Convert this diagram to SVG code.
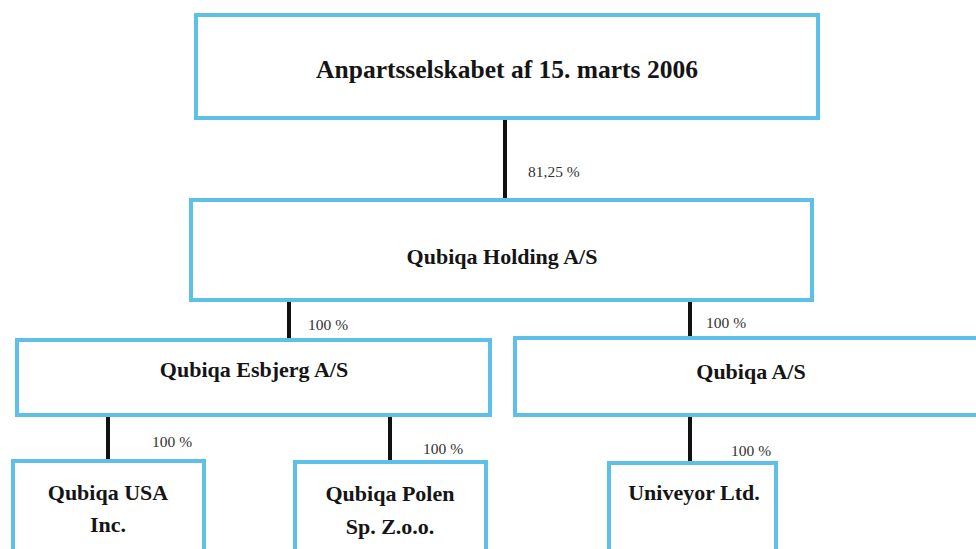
<svg xmlns="http://www.w3.org/2000/svg" width="976" height="549" viewBox="0 0 976 549">
<style>
.box{fill:#ffffff;stroke:#5ec0e8;stroke-width:4}
.lbl{font-family:"Liberation Serif","Times New Roman",serif;font-weight:bold;fill:#151515;text-anchor:middle;font-size:22px}
.pct{font-family:"Liberation Serif","Times New Roman",serif;font-size:15.5px;fill:#333333}
.con line{stroke:#111111;stroke-width:4}
</style>
<rect width="976" height="549" fill="#ffffff"/>
<g id="connectors" class="con">
<line x1="505" y1="118" x2="505" y2="200"/>
<line x1="289" y1="300" x2="289" y2="340"/>
<line x1="690" y1="300" x2="690" y2="338"/>
<line x1="108" y1="415" x2="108" y2="460"/>
<line x1="390" y1="415" x2="390" y2="461"/>
<line x1="690" y1="415" x2="690" y2="462"/>
</g>
<g id="labels">
<text class="pct" x="528" y="177">81,25 %</text>
<text class="pct" x="308" y="330">100 %</text>
<text class="pct" x="706" y="328">100 %</text>
<text class="pct" x="152" y="447">100 %</text>
<text class="pct" x="423" y="454">100 %</text>
<text class="pct" x="731" y="456">100 %</text>
</g>
<g id="n-anparts">
<rect class="box" x="196" y="15" width="622" height="103"/>
<text class="lbl" x="507" y="78" style="font-size:25.5px">Anpartsselskabet af 15. marts 2006</text>
</g>
<g id="n-holding">
<rect class="box" x="191" y="200" width="621" height="100"/>
<text class="lbl" x="502" y="264">Qubiqa Holding A/S</text>
</g>
<g id="n-esbjerg">
<rect class="box" x="17" y="340" width="473" height="75"/>
<text class="lbl" x="254" y="377">Qubiqa Esbjerg A/S</text>
</g>
<g id="n-qubiqa">
<rect class="box" x="515" y="338" width="480" height="77"/>
<text class="lbl" x="751" y="379">Qubiqa A/S</text>
</g>
<g id="n-usa">
<rect class="box" x="13" y="461" width="191" height="110"/>
<text class="lbl" x="108" y="500">Qubiqa USA</text>
<text class="lbl" x="108" y="532">Inc.</text>
</g>
<g id="n-polen">
<rect class="box" x="295" y="462" width="191" height="110"/>
<text class="lbl" x="390" y="501">Qubiqa Polen</text>
<text class="lbl" x="390" y="534">Sp. Z.o.o.</text>
</g>
<g id="n-univeyor">
<rect class="box" x="609" y="463" width="167" height="110"/>
<text class="lbl" x="694" y="500">Univeyor Ltd.</text>
</g>
</svg>
